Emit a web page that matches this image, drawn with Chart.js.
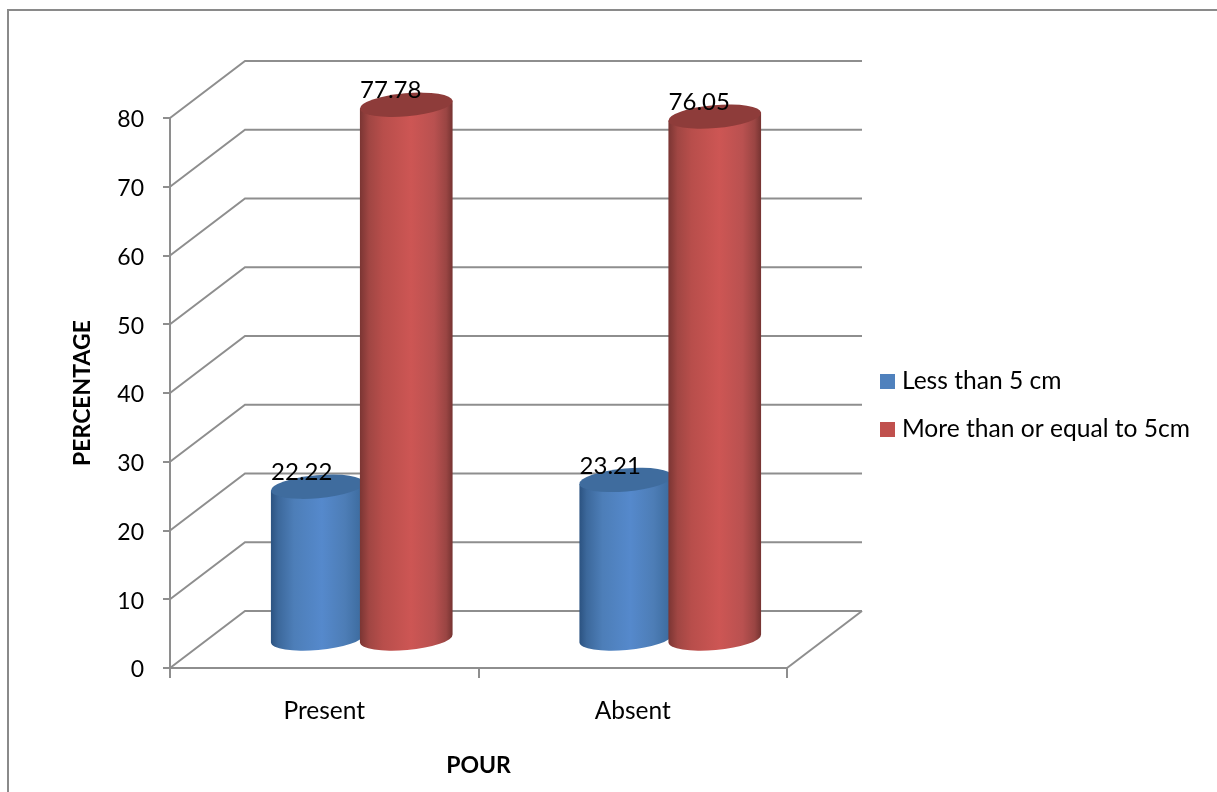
<!DOCTYPE html>
<html>
<head>
<meta charset="utf-8">
<title>Tumour size by pour</title>
<script src="https://cdn.jsdelivr.net/npm/chart.js@4"></script>
<style>
    html, body { margin: 0; padding: 0; background: #fff; overflow: hidden; }
    #frame { position: absolute; left: 7px; top: 9px; width: 1300px; height: 900px;
             border-top: 2px solid #8a8a8a; border-left: 2px solid #8a8a8a; }
    #pourChart { position: absolute; left: 0; top: 0; }
</style>
</head>
<body>
<div id="frame"></div>
<canvas id="pourChart" width="1217" height="792"></canvas>
<script>
const categories = ['Present', 'Absent'];
const seriesNames = ['Less than 5 cm', 'More than or equal to 5cm'];
const lessThan5 = [22.22, 23.21];
const moreThan5 = [77.78, 76.05];

const GRID_COLOR = '#8e8e8e';
const FONT = 'Lato, Carlito, sans-serif';

// oblique offset of the back wall from the front plane
const DEPTH_X = 75;
const DEPTH_Y = -57;
const TILT = -5 * Math.PI / 180;
const CAP_RY = 11.5;
const LEGEND_BOX_X = 880;
const LEGEND_BOX_SIZE = 15;

const looks = [
    {
        legend: '#4f81bd',
        cap: '#3f6c9e',
        stops: [[0, '#2b5280'], [0.08, '#3c689b'], [0.25, '#4d7eb8'], [0.55, '#5589cc'], [0.8, '#4d7db6'], [0.95, '#3f6ea2'], [1, '#3a6596']]
    },
    {
        legend: '#c0504d',
        cap: '#8e3c3a',
        stops: [[0, '#7a3533'], [0.1, '#a04643'], [0.25, '#b84e4b'], [0.55, '#cd5654'], [0.8, '#b95150'], [0.93, '#9a4543'], [1, '#753331']]
    }
];

function drawCylinder(ctx, bar, look) {
    const cx = bar.x + DEPTH_X / 2;
    const top = bar.y + DEPTH_Y / 2;
    const base = bar.base + DEPTH_Y / 2;
    const rx = bar.width / 2;
    const sideX = rx * Math.cos(TILT);
    const sideY = rx * Math.sin(TILT);

    const grad = ctx.createLinearGradient(cx - rx, 0, cx + rx, 0);
    look.stops.forEach(function (s) { grad.addColorStop(s[0], s[1]); });

    ctx.beginPath();
    ctx.ellipse(cx, base, rx, CAP_RY, TILT, Math.PI, 0, true);
    ctx.lineTo(cx + sideX, top + sideY);
    ctx.lineTo(cx - sideX, top - sideY);
    ctx.closePath();
    ctx.fillStyle = grad;
    ctx.fill();

    ctx.beginPath();
    ctx.ellipse(cx, top, rx, CAP_RY, TILT, 0, Math.PI * 2);
    ctx.fillStyle = look.cap;
    ctx.fill();
}

const box3d = {
    id: 'box3d',
    afterLayout: function (chart) {
        // the legend sits in the free space right of the floor
        const legend = chart.legend;
        legend.left = 866.4;
        legend.right = 1217;
        legend.top = 346;
        legend.bottom = 520;
    },
    beforeDatasetsDraw: function (chart) {
        const ctx = chart.ctx;
        const x = chart.scales.x;
        const y = chart.scales.y;
        ctx.save();
        ctx.strokeStyle = GRID_COLOR;
        ctx.lineWidth = 2;
        y.ticks.forEach(function (t) {
            const py = y.getPixelForValue(t.value);
            ctx.beginPath();
            ctx.moveTo(x.left, py);
            ctx.lineTo(x.left + DEPTH_X, py + DEPTH_Y);
            ctx.lineTo(x.right + DEPTH_X, py + DEPTH_Y);
            ctx.stroke();
        });
        // right edge of the floor
        const floor = y.getPixelForValue(0);
        ctx.beginPath();
        ctx.moveTo(x.right, floor);
        ctx.lineTo(x.right + DEPTH_X, floor + DEPTH_Y);
        ctx.stroke();
        ctx.restore();
    },
    // flat bars are replaced by the cylinders below
    beforeDatasetDraw: function () {
        return false;
    },
    afterDatasetsDraw: function (chart) {
        const ctx = chart.ctx;
        ctx.save();
        chart.data.datasets.forEach(function (ds, i) {
            chart.getDatasetMeta(i).data.forEach(function (bar) {
                drawCylinder(ctx, bar, looks[i]);
            });
        });
        ctx.fillStyle = '#000';
        ctx.font = '24px ' + FONT;
        ctx.textAlign = 'center';
        ctx.textBaseline = 'middle';
        chart.data.datasets.forEach(function (ds, i) {
            chart.getDatasetMeta(i).data.forEach(function (bar, j) {
                ctx.fillText(ds.data[j].toFixed(2), bar.x + DEPTH_X / 2 - 15.5, bar.y + DEPTH_Y / 2 - 14);
            });
        });
        ctx.restore();
    },
    // legend text keeps the library layout, its swatches sit closer to the text
    afterDraw: function (chart) {
        const ctx = chart.ctx;
        chart.legend.legendHitBoxes.forEach(function (hit, i) {
            ctx.fillStyle = looks[i].legend;
            ctx.fillRect(LEGEND_BOX_X, Math.round(hit.top + (hit.height - LEGEND_BOX_SIZE) / 2), LEGEND_BOX_SIZE, LEGEND_BOX_SIZE);
        });
    }
};

new Chart(document.getElementById('pourChart'), {
    type: 'bar',
    data: {
        labels: categories,
        datasets: [
            { label: seriesNames[0], data: lessThan5, backgroundColor: looks[0].legend, borderWidth: 0 },
            { label: seriesNames[1], data: moreThan5, backgroundColor: looks[1].legend, borderWidth: 0 }
        ]
    },
    plugins: [box3d],
    options: {
        responsive: false,
        animation: false,
        categoryPercentage: 0.577,
        barPercentage: 1.045,
        layout: { padding: { left: 69, top: 118, right: 430, bottom: 13 } },
        plugins: {
            tooltip: { enabled: false },
            legend: {
                position: 'chartArea',
                align: 'start',
                labels: {
                    boxWidth: 0,
                    boxHeight: 15,
                    padding: 23.2,
                    color: '#000',
                    font: { family: FONT, size: 24.6 }
                }
            }
        },
        scales: {
            x: {
                afterFit: function (s) { s.height = 111; },
                grid: { drawOnChartArea: false, color: GRID_COLOR, lineWidth: 2, tickLength: 10 },
                border: { color: GRID_COLOR, width: 2 },
                ticks: { color: '#000', padding: 18, maxRotation: 0, font: { family: FONT, size: 24.5 } },
                title: {
                    display: true,
                    text: 'POUR',
                    color: '#000',
                    padding: 0,
                    font: { family: FONT, size: 23, weight: 'bold' }
                }
            },
            y: {
                min: 0,
                max: 80,
                afterFit: function (s) { s.width = 101; },
                grid: { drawOnChartArea: false, color: GRID_COLOR, lineWidth: 2, tickLength: 7 },
                border: { color: GRID_COLOR, width: 2 },
                ticks: { color: '#000', padding: 19, stepSize: 10, labelOffset: 2, font: { family: FONT, size: 23 } },
                title: {
                    display: true,
                    text: 'PERCENTAGE',
                    color: '#000',
                    padding: 0,
                    font: { family: FONT, size: 23, weight: 'bold' }
                }
            }
        }
    }
});
</script>
</body>
</html>
